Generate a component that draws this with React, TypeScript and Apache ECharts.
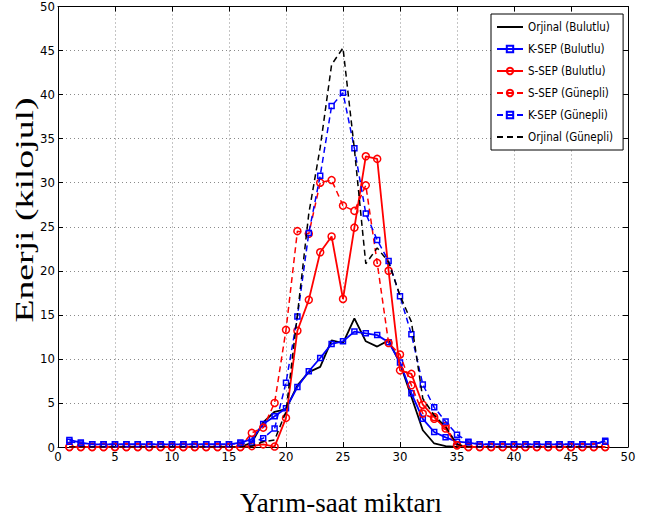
import React, { useEffect, useRef } from "react";
import * as echarts from "echarts";

const halfHours = [1, 2, 3, 4, 5, 6, 7, 8, 9, 10, 11, 12, 13, 14, 15, 16, 17, 18, 19, 20, 21, 22, 23, 24, 25, 26, 27, 28, 29, 30, 31, 32, 33, 34, 35, 36, 37, 38, 39, 40, 41, 42, 43, 44, 45, 46, 47, 48];

const xTicks = [0, 5, 10, 15, 20, 25, 30, 35, 40, 45, 50];
const yTicks = [0, 5, 10, 15, 20, 25, 30, 35, 40, 45, 50];

const orjinalBulutlu = [0, 0, 0, 0, 0, 0, 0, 0, 0, 0, 0, 0, 0, 0, 0, 0, 0.5, 2.8, 4.0, 4.3, 7.0, 8.5, 9.1, 12.1, 11.8, 14.6, 12.0, 11.4, 12.1, 9.5, 5.7, 1.9, 0.4, 0.1, 0, 0, 0, 0, 0, 0, 0, 0, 0, 0, 0, 0, 0, 0];
const kSepBulutlu = [0.8, 0.5, 0.3, 0.3, 0.3, 0.3, 0.3, 0.3, 0.3, 0.3, 0.3, 0.3, 0.3, 0.3, 0.3, 0.5, 0.9, 2.6, 3.5, 4.4, 6.8, 8.6, 10.1, 11.7, 12.0, 13.1, 12.9, 12.7, 11.9, 9.6, 6.1, 3.2, 1.7, 1.1, 0.6, 0.5, 0.3, 0.3, 0.3, 0.3, 0.3, 0.3, 0.3, 0.3, 0.3, 0.3, 0.3, 0.7];
const sSepBulutlu = [0, 0, 0, 0, 0, 0, 0, 0, 0, 0, 0, 0, 0, 0, 0, 0, 0.1, 0.3, 0.05, 3.3, 13.2, 16.7, 22.1, 23.9, 16.8, 24.9, 33.0, 32.7, 20.0, 8.7, 8.3, 4.8, 3.4, 2.1, 0.2, 0, 0, 0, 0, 0, 0, 0, 0, 0, 0, 0, 0, 0];
const sSepGunesli = [0, 0, 0, 0, 0, 0, 0, 0, 0, 0, 0, 0, 0, 0, 0, 0, 1.6, 2.2, 5.0, 13.3, 24.5, 24.2, 30.0, 30.3, 27.4, 26.8, 29.7, 20.9, 11.8, 10.5, 7.0, 3.8, 3.2, 2.4, 0.2, 0, 0, 0, 0, 0, 0, 0, 0, 0, 0, 0, 0, 0];
const kSepGunesli = [0.6, 0.4, 0.3, 0.3, 0.3, 0.3, 0.3, 0.3, 0.3, 0.3, 0.3, 0.3, 0.3, 0.3, 0.3, 0.4, 0.5, 1.0, 2.1, 7.3, 14.8, 24.3, 30.8, 38.7, 40.2, 33.9, 26.5, 23.5, 21.1, 17.1, 12.8, 7.1, 4.5, 2.9, 1.4, 0.6, 0.3, 0.3, 0.3, 0.3, 0.3, 0.3, 0.3, 0.3, 0.3, 0.3, 0.3, 0.6];
const orjinalGunesli = [0, 0, 0, 0, 0, 0, 0, 0, 0, 0, 0, 0, 0, 0, 0, 0, 0.1, 0.6, 0.8, 4.0, 15.0, 26.5, 34.0, 43.4, 45.3, 33.8, 20.8, 22.6, 21.0, 17.2, 14.2, 5.5, 3.6, 2.3, 0.3, 0, 0, 0, 0, 0, 0, 0, 0, 0, 0, 0, 0, 0];

const seriesNames = [
  "Orjinal (Bulutlu)",
  "K-SEP (Bulutlu)",
  "S-SEP (Bulutlu)",
  "S-SEP (Günepli)",
  "K-SEP (Günepli)",
  "Orjinal (Günepli)",
];

const xTitle = "Yarım-saat miktarı";
const yTitle = "Enerji (kilojul)";

const narrow = "DejaVu Sans Condensed, sans-serif";
const serif = "Liberation Serif";

function mk(name: string, values: number[], color: string, dashed: boolean, symbol: string, size: number, z: number) {
  const hasSymbol = symbol !== "none";
  return {
    type: "line",
    name,
    data: halfHours.map((h, i) => [h, values[i]]),
    xAxisIndex: 0,
    yAxisIndex: 0,
    symbol,
    symbolSize: size,
    showAllSymbol: true,
    z,
    lineStyle: { color, width: dashed ? 1.5 : 1.8, type: dashed ? [6, 4] : "solid" },
    itemStyle: hasSymbol
      ? { color: "rgba(0,0,0,0)", borderColor: color, borderWidth: 1.5 }
      : { color: "rgba(0,0,0,0)", borderColor: "rgba(0,0,0,0)", borderWidth: 0 },
    emphasis: { disabled: true },
  };
}

export default function App() {
  const ref = useRef<HTMLDivElement>(null);
  useEffect(() => {
    document.body.style.margin = "0";
    const chart = echarts.init(ref.current!, null, { renderer: "svg" });
    const gridLine = { show: true, lineStyle: { color: "#8a8a8a", type: [1, 3], width: 1 } };
    const tick = { show: true, inside: true, length: 5, lineStyle: { color: "#000", width: 1 } };
    const line = { show: true, onZero: false, lineStyle: { color: "#000", width: 1 } };
    const option = {
      animation: false,
      backgroundColor: "#fff",
      grid: { left: 58, top: 5, width: 570, height: 442, containLabel: false },
      xAxis: [
        {
          type: "value", position: "bottom", min: xTicks[0], max: xTicks[xTicks.length - 1], interval: 5,
          axisLine: line, axisTick: tick, splitLine: gridLine,
          axisLabel: { color: "#000", fontFamily: narrow, fontSize: 13, margin: 3 },
        },
        {
          type: "value", position: "top", min: xTicks[0], max: xTicks[xTicks.length - 1], interval: 5,
          axisLine: line, axisTick: tick, splitLine: { show: false }, axisLabel: { show: false },
        },
      ],
      yAxis: [
        {
          type: "value", position: "left", min: yTicks[0], max: yTicks[yTicks.length - 1], interval: 5,
          axisLine: line, axisTick: tick, splitLine: gridLine,
          axisLabel: { color: "#000", fontFamily: narrow, fontSize: 13, margin: 3 },
        },
        {
          type: "value", position: "right", min: yTicks[0], max: yTicks[yTicks.length - 1], interval: 5,
          axisLine: line, axisTick: tick, splitLine: { show: false }, axisLabel: { show: false },
        },
      ],
      legend: {
        data: seriesNames,
        orient: "vertical",
        left: 491,
        top: 14,
        itemWidth: 26,
        itemHeight: 8,
        itemGap: 8,
        padding: [6, 10, 6, 5],
        borderColor: "#000",
        borderWidth: 1,
        borderRadius: 0,
        backgroundColor: "#fff",
        textStyle: { color: "#000", fontFamily: narrow, fontSize: 11.5, lineHeight: 14 },
      },
      graphic: [
        {
          type: "text", x: 341, y: 503, z: 100,
          style: { text: xTitle, fontFamily: serif, fontSize: 27, fill: "#000", textAlign: "center", textVerticalAlign: "middle" },
        },
        {
          type: "text", x: 25, y: 210, rotation: Math.PI / 2, scaleX: 1.45, scaleY: 0.95, z: 100,
          style: { text: yTitle, fontFamily: serif, fontSize: 26, fill: "#000", textAlign: "center", textVerticalAlign: "middle" },
        },
      ],
      series: [
        mk(seriesNames[0], orjinalBulutlu, "#000000", false, "none", 0, 2),
        mk(seriesNames[1], kSepBulutlu, "#0000ff", false, "rect", 5, 3),
        mk(seriesNames[2], sSepBulutlu, "#ff0000", false, "circle", 7, 4),
        mk(seriesNames[3], sSepGunesli, "#ff0000", true, "circle", 7, 5),
        mk(seriesNames[4], kSepGunesli, "#0000ff", true, "rect", 5, 6),
        mk(seriesNames[5], orjinalGunesli, "#000000", true, "none", 0, 7),
      ],
    };
    chart.setOption(option as any);
    return () => chart.dispose();
  }, []);
  return <div ref={ref} style={{ width: 648, height: 522 }} />;
}
